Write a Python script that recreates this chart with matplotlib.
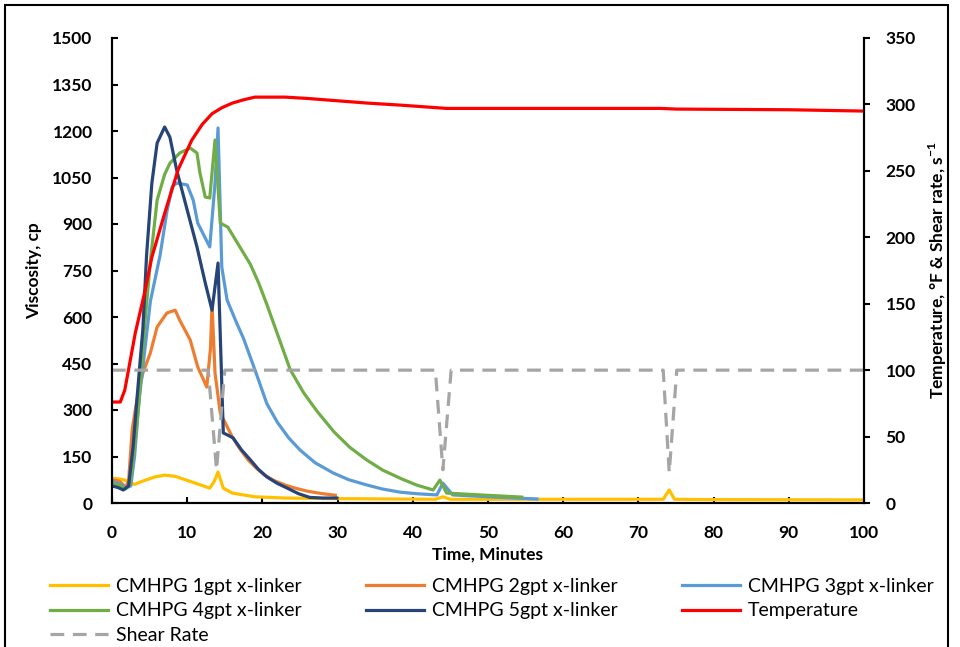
import matplotlib
matplotlib.use('Agg')
import matplotlib.pyplot as plt
from matplotlib.patches import Rectangle

plt.rcParams['font.family'] = ['Lato', 'DejaVu Sans']

# CMHPG 1gpt x-linker
t_1gpt = [0, 0.8, 1.7, 2.3, 3, 4, 5.7, 7, 8.4, 10.6, 13, 13.6, 14.1, 14.8, 16, 19, 23, 30, 43, 44, 45, 73.3, 74.1, 74.8, 80, 100]
v_1gpt = [80, 78, 74, 66, 60, 70, 84, 90, 86, 68, 48, 70, 100, 48, 32, 20, 16, 14, 12, 20, 12, 12, 42, 12, 11, 10]

# CMHPG 2gpt x-linker
t_2gpt = [0, 1, 1.8, 2.2, 2.7, 3.3, 4.1, 5.1, 6, 7.3, 8.4, 9, 10.4, 11.4, 12.6, 13.1, 13.3, 13.7, 14.4,
          16, 17, 18.1, 19.2, 20.3, 21.5, 23, 24.5, 26, 28, 29.7]
v_2gpt = [75, 70, 52, 70, 240, 330, 419, 484, 568, 613, 622, 590, 526, 439, 374, 500, 640, 419, 290,
          213, 175, 139, 112, 90, 73, 58, 47, 38, 30, 25]

# CMHPG 3gpt x-linker
t_3gpt = [0, 1, 1.8, 2.5, 3, 3.6, 4.3, 5.1, 6.4, 7.3, 8, 8.6, 10, 10.8, 11.4, 13, 13.7, 14.1, 14.6,
          15.3, 16.5, 17.5, 18.4, 19, 20.6, 22, 23.5, 25, 27, 29.4, 31.5, 33.9, 36, 38.3, 40.5, 43.2,
          44, 45.3, 50, 56.5]
v_3gpt = [68, 62, 48, 55, 150, 330, 480, 650, 800, 940, 1020, 1032, 1026, 977, 903, 826, 1032, 1210, 761,
          655, 585, 530, 470, 430, 320, 260, 210, 171, 130, 97, 75, 58, 45, 35, 30, 26,
          64, 26, 20, 13]

# CMHPG 4gpt x-linker
t_4gpt = [0, 1, 1.8, 2.4, 3, 3.6, 4.3, 5.1, 6, 7, 7.7, 9, 10.4, 11.3, 11.7, 12.4, 13, 13.7, 14.4,
          15.4, 17, 18.4, 19.5, 20.6, 22, 23.7, 25.5, 27.3, 29.5, 31.6, 33.8, 36, 38.5, 40.5, 42.7,
          43.6, 44.5, 49, 54.5]
v_4gpt = [62, 58, 45, 60, 180, 330, 560, 780, 977, 1060, 1096, 1129, 1145, 1129, 1064, 987, 984, 1171, 903,
          890, 826, 770, 710, 640, 545, 430, 355, 295, 230, 180, 140, 106, 78, 58, 42,
          74, 32, 26, 19]

# CMHPG 5gpt x-linker
t_5gpt = [0, 0.8, 1.5, 2.2, 2.8, 3.3, 4.1, 4.6, 5.3, 6, 7, 7.7, 8.6, 10, 11.3, 12.4, 13.3, 14.1, 14.8, 15.4,
          16.1, 17.2, 18.4, 19.5, 20.6, 22, 23.3, 24.8, 26.3, 28, 29.9]
v_5gpt = [55, 50, 42, 55, 180, 330, 560, 800, 1032, 1161, 1213, 1180, 1074, 945, 826, 710, 622, 774, 226, 219,
          210, 172, 139, 108, 84, 63, 48, 30, 18, 16, 16]

# Temperature, F
t_temp = [0, 1.1, 1.7, 3.1, 4.4, 5.3, 7, 8.8, 10.6, 12, 13.3, 14.6, 16, 17.5, 19, 23, 26, 29.4, 34, 38.3, 44.5, 60, 73, 75, 90, 100]
v_temp = [76, 76, 85, 128, 160, 185, 218, 251, 273, 285, 293, 297.5, 301, 303.5, 305.5, 305.5, 304.5, 303, 301, 299.5, 297, 297, 297, 296.5, 296, 295]

# Shear rate, 1/s
t_shear = [0, 12.8, 13.9, 15, 43, 44, 45.1, 73.3, 74.1, 75.1, 100]
v_shear = [100, 100, 25, 100, 100, 25, 100, 100, 23, 100, 100]

fig = plt.figure(figsize=(9.6, 6.47), dpi=100)
ax = fig.add_axes([112/960, 1 - 503/647, 752/960, 465/647])
ax2 = ax.twinx()

lw = 2.3
l1, = ax.plot(t_1gpt, v_1gpt, color='#FFC000', lw=lw, label='CMHPG 1gpt x-linker')
l2, = ax.plot(t_2gpt, v_2gpt, color='#ED7D31', lw=lw, label='CMHPG 2gpt x-linker')
l3, = ax.plot(t_3gpt, v_3gpt, color='#5B9BD5', lw=lw, label='CMHPG 3gpt x-linker')
l4, = ax.plot(t_4gpt, v_4gpt, color='#70AD47', lw=lw, label='CMHPG 4gpt x-linker')
l5, = ax.plot(t_5gpt, v_5gpt, color='#264478', lw=lw, label='CMHPG 5gpt x-linker')
ls, = ax2.plot(t_shear, v_shear, color='#A5A5A5', lw=lw, dashes=(4.3, 2.7), label='Shear Rate')
lt, = ax2.plot(t_temp, v_temp, color='#FF0000', lw=lw, label='Temperature')

ax.set_xlim(0, 100)
ax.set_ylim(0, 1500)
ax2.set_ylim(0, 350)
ax.set_xticks(range(0, 101, 10))
ax.set_yticks(range(0, 1501, 150))
ax2.set_yticks(range(0, 351, 50))

for a in (ax, ax2):
    a.spines['top'].set_visible(False)
    for s in ('left', 'right', 'bottom'):
        a.spines[s].set_linewidth(1.5)
        a.spines[s].set_color('black')
    for lab in a.get_xticklabels() + a.get_yticklabels():
        lab.set_fontweight('bold')
ax.tick_params(axis='y', direction='in', length=4.5, width=1.5, labelsize=12.5, pad=14)
ax.tick_params(axis='x', direction='in', length=4.5, width=1.5, labelsize=12.5, pad=16)
ax2.tick_params(axis='y', direction='out', length=4.5, width=1.5, labelsize=12.5, pad=11)

ax.set_xlabel('Time, Minutes', fontsize=12.5, fontweight='bold', labelpad=4)
ax.set_ylabel('Viscosity, cp', fontsize=12.5, fontweight='bold', labelpad=7)
ax2.set_ylabel('Temperature, °F & Shear rate, s$^{\\mathregular{-1}}$', fontsize=12.5,
               fontweight='bold', labelpad=8)

handles = [l1, l4, ls, l2, l5, l3, lt]
fig.legend(handles, [h.get_label() for h in handles], loc='upper left',
           bbox_to_anchor=(50/960, 1 - 578/647), ncol=3, frameon=False,
           fontsize=14, handlelength=3.0, handletextpad=0.4, columnspacing=3.3,
           labelspacing=0.38, borderaxespad=0, borderpad=0)

fig.patches.append(Rectangle((5/960, -0.05), 943/960, 1.05 - 5/647, transform=fig.transFigure,
                             fill=False, edgecolor='black', lw=1.5))

fig.savefig('out.png', dpi=100)
